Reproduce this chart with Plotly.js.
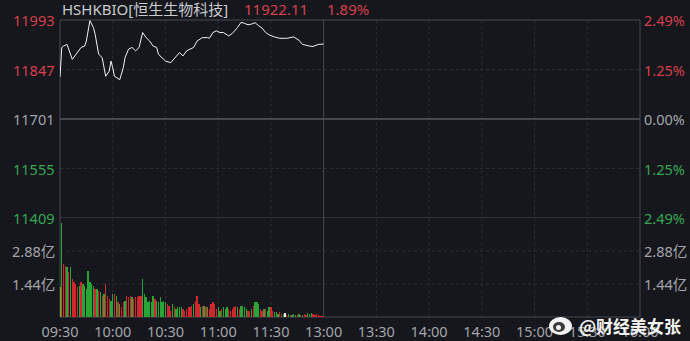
<!DOCTYPE html>
<html>
<head>
<meta charset="utf-8">
<script src="https://cdn.plot.ly/plotly-3.0.1.min.js"></script>
<style>
html,body{margin:0;padding:0;background:#15171d;}
#chart{width:690px;height:341px;}
</style>
</head>
<body>
<div id="chart"></div>
<script>
// ---------- DATA ----------
const symbol = "HSHKBIO[恒生生物科技]";
const lastPrice = "11922.11";
const lastPct = "1.89%";
const prevClose = 11701;

// price line vertices (time, index value)
const priceTimes = ["09:30","09:31","09:32","09:34","09:37","09:39","09:42","09:44","09:45","09:47",
  "09:49","09:50","09:52","09:54","09:56","09:58","09:59","10:00","10:01","10:04",
  "10:06","10:07","10:09","10:11","10:13","10:15","10:17","10:19","10:21","10:23",
  "10:25","10:26","10:28","10:30","10:33","10:36","10:38","10:40","10:42","10:44",
  "10:46","10:48","10:51","10:54","10:55","10:57","10:59","11:01","11:03","11:06",
  "11:08","11:11","11:13","11:15","11:17","11:19","11:21","11:23","11:25","11:27",
  "11:29","11:32","11:35","11:39","11:43","11:46","11:48","11:52","11:54","11:57","12:00"];
const priceValues = [11825,11912,11916,11921,11877,11892,11912,11916,11931,11991,
  11971,11951,11892,11882,11827,11842,11872,11852,11827,11817,
  11852,11882,11907,11912,11902,11912,11956,11941,11931,11916,
  11912,11892,11882,11872,11867,11887,11897,11887,11902,11907,
  11912,11931,11941,11941,11939,11956,11961,11956,11956,11946,
  11953,11971,11986,11983,11979,11981,11985,11976,11969,11956,
  11949,11943,11939,11939,11943,11933,11921,11916,11915,11921,11922.11];

// per-minute turnover (亿), 09:30 .. 11:59
const volumes = [
  1.30,4.10,2.31,2.24,2.17,1.95,2.17,1.66,1.51,1.44,1.29,1.37,1.51,1.44,1.37,
  1.22,2.00,1.51,1.44,1.37,1.22,1.22,1.15,1.08,0.93,1.00,1.46,0.93,0.78,0.71,
  1.00,1.00,0.93,0.64,0.57,0.42,0.64,0.71,0.93,0.86,0.93,0.86,
  0.78,0.86,0.86,0.93,0.93,1.66,1.00,0.86,0.64,0.71,0.64,0.93,0.78,0.71,0.64,0.86,0.64,0.71,0.64,0.57,0.49,0.28,0.57,0.42,
  0.35,0.42,0.42,0.42,0.35,0.28,0.35,0.42,0.42,
  0.49,0.57,0.71,0.93,0.57,0.42,0.49,0.49,0.42,
  0.42,0.35,0.57,0.64,0.57,0.35,0.42,0.28,0.35,0.42,0.35,0.42,0.35,0.28,0.35,0.42,0.49,0.42,0.35,
  0.49,0.49,0.42,0.35,0.28,0.28,0.35,0.49,0.64,0.64,0.57,0.35,0.28,0.35,
  0.35,0.28,0.42,0.42,0.28,0.20,0.20,0.13,0.20,0.13,0.13,0.16,0.09,0.13,0.09,0.09,0.13,0.09,0.09,
  0.13,0.09,0.10,0.13,0.09,0.16,0.13,0.18,0.13,0.09,0.13,0.10,0.06,0.06];
// a = auction, u = up, d = down, f = flat
const volDir = ("aduududuuuududd" + "dddddudududuuud" + "dududuuduuud" +
  "uuuuudddddddudddddduuudu" + "dddduuuuu" +
  "uduuududu" + "duuuuudduddduuuuudu" + "dddduududdduud" +
  "udduuddduudfududddu" + "duduuddduuuuuu").split("");

// axis ticks
const priceTicks = [11993, 11847, 11701, 11555, 11409];
const pctTicks = ["2.49%", "1.25%", "0.00%", "1.25%", "2.49%"];
const volTicks = [2.88, 1.44];
const volTickText = ["2.88亿", "1.44亿"];
const timeTicks = ["09:30","10:00","10:30","11:00","11:30","13:00","13:30","14:00","14:30","15:00","15:30","16:00"];
const watermark = "@财经美女张";

// ---------- HELPERS ----------
function sessionIndex(t) {
  const [h, m] = t.split(":").map(Number);
  let v = h * 60 + m - (9 * 60 + 30);
  if (h >= 13) v -= 60;       // skip lunch break
  return v;
}
const RED = "#d6404a", GREEN = "#36a852", GRAY = "#a3a5a9";
const BG = "#15171d";
const FONT = "Noto Sans, Noto Sans CJK SC, sans-serif";
const L = 60, R = 50, T = 20, B = 24, W = 690, H = 341;
const pw = W - L - R, ph = H - T - B;
const px = x => (x - L) / pw;          // pixel -> paper x
const py = y => 1 - (y - T) / ph;      // pixel -> paper y

function tickColor(v) { return v > prevClose ? RED : (v < prevClose ? GREEN : GRAY); }
const dirColor = {u: "#d0262d", d: "#2ba436", a: "#c8782c", f: "#e8e8e8"};

const xMax = sessionIndex("16:00");

// ---------- TRACES ----------
const priceTrace = {
  x: priceTimes.map(sessionIndex), y: priceValues,
  type: "scatter", mode: "lines", xaxis: "x", yaxis: "y",
  line: {color: "#f2f2f2", width: 1}, hoverinfo: "skip"
};
const volTrace = {
  x: volumes.map((v, i) => i), y: volumes,
  type: "bar", xaxis: "x", yaxis: "y2", width: 0.75,
  marker: {color: volDir.map(d => dirColor[d]), line: {width: 0}},
  hoverinfo: "skip"
};

// ---------- SHAPES ----------
const shapes = [];
const dashCol = "#2a2e35", solidCol = "#464a51";
timeTicks.forEach(t => {
  const xi = sessionIndex(t);
  if (xi === 0 || xi === xMax) return;
  const solid = t === "13:00";
  shapes.push({type: "line", xref: "x", yref: "paper", x0: xi, x1: xi, y0: 0, y1: 1,
    line: {color: solid ? solidCol : dashCol, width: 1, dash: solid ? "solid" : "3px,3px"}, layer: "below"});
});
[11847, 11555].forEach(v => shapes.push({type: "line", xref: "paper", yref: "y", x0: 0, x1: 1, y0: v, y1: v,
  line: {color: dashCol, width: 1, dash: "3px,3px"}, layer: "below"}));
volTicks.forEach(v => shapes.push({type: "line", xref: "paper", yref: "y2", x0: 0, x1: 1, y0: v, y1: v,
  line: {color: dashCol, width: 1, dash: "3px,3px"}, layer: "below"}));
shapes.push({type: "line", xref: "paper", yref: "y", x0: 0, x1: 1, y0: prevClose, y1: prevClose,
  line: {color: "#55585f", width: 1.5}, layer: "below"});
shapes.push({type: "line", xref: "paper", yref: "y", x0: 0, x1: 1, y0: 11409, y1: 11409,
  line: {color: solidCol, width: 1}, layer: "below"});
shapes.push({type: "rect", xref: "paper", yref: "paper", x0: 0, x1: 1, y0: 0, y1: 1,
  line: {color: solidCol, width: 1}, layer: "below"});
// watermark logo
shapes.push({type: "circle", xref: "paper", yref: "paper", x0: px(549), x1: px(572), y0: py(335), y1: py(317),
  fillcolor: "#f2f2f2", line: {width: 0}});
shapes.push({type: "circle", xref: "paper", yref: "paper", x0: px(553), x1: px(565), y0: py(332), y1: py(322),
  fillcolor: "#3a3a3a", line: {width: 0}});
shapes.push({type: "circle", xref: "paper", yref: "paper", x0: px(556), x1: px(561), y0: py(330), y1: py(325),
  fillcolor: "#f2f2f2", line: {width: 0}});

// ---------- ANNOTATIONS ----------
const ann = [];
const fnt = (c, s) => ({family: FONT, size: s || 14.5, color: c});
priceTicks.forEach((v, i) => {
  ann.push({xref: "paper", yref: "y", x: 0, y: v, xanchor: "right", yanchor: "middle", xshift: -4,
    text: String(v), showarrow: false, font: fnt(tickColor(v))});
  ann.push({xref: "paper", yref: "y", x: 1, y: v, xanchor: "left", yanchor: "middle", xshift: 2,
    text: pctTicks[i], showarrow: false, font: fnt(tickColor(v))});
});
volTicks.forEach((v, i) => {
  ann.push({xref: "paper", yref: "y2", x: 0, y: v, xanchor: "right", yanchor: "middle", xshift: -3,
    text: volTickText[i], showarrow: false, font: fnt(GRAY)});
  ann.push({xref: "paper", yref: "y2", x: 1, y: v, xanchor: "left", yanchor: "middle", xshift: 2,
    text: volTickText[i], showarrow: false, font: fnt(GRAY)});
});
ann.push({xref: "paper", yref: "paper", x: px(60), y: py(9), xanchor: "left", yanchor: "middle",
  text: symbol, showarrow: false, font: fnt("#c9cbcf", 15)});
ann.push({xref: "paper", yref: "paper", x: px(242), y: py(9), xanchor: "left", yanchor: "middle",
  text: lastPrice, showarrow: false, font: fnt(RED, 15)});
ann.push({xref: "paper", yref: "paper", x: px(325), y: py(9), xanchor: "left", yanchor: "middle",
  text: lastPct, showarrow: false, font: fnt(RED, 15)});
ann.push({xref: "paper", yref: "paper", x: px(577), y: py(325), xanchor: "left", yanchor: "middle",
  text: watermark, showarrow: false, font: {family: "Noto Sans CJK SC, sans-serif", size: 17, color: "#f4f4f4", weight: 600}});

// ---------- LAYOUT ----------
const layout = {
  width: W, height: H,
  margin: {l: L, r: R, t: T, b: B, pad: 0},
  paper_bgcolor: BG, plot_bgcolor: BG,
  showlegend: false, bargap: 0,
  xaxis: {
    range: [0, xMax], anchor: "y2", fixedrange: true,
    tickvals: timeTicks.map(sessionIndex), ticktext: timeTicks,
    showgrid: false, zeroline: false, showline: false,
    ticks: "outside", ticklen: 2, tickcolor: "rgba(0,0,0,0)",
    tickfont: {family: FONT, size: 14.5, color: GRAY}
  },
  yaxis: {
    domain: [1/3, 1], range: [11409, 11993], showticklabels: false,
    showgrid: false, zeroline: false, showline: false, fixedrange: true
  },
  yaxis2: {
    domain: [0, 1/3], range: [0, 4.32], showticklabels: false,
    showgrid: false, zeroline: false, showline: false, fixedrange: true
  },
  shapes: shapes,
  annotations: ann
};

Plotly.newPlot("chart", [volTrace, priceTrace], layout, {displayModeBar: false, staticPlot: true});
</script>
</body>
</html>
